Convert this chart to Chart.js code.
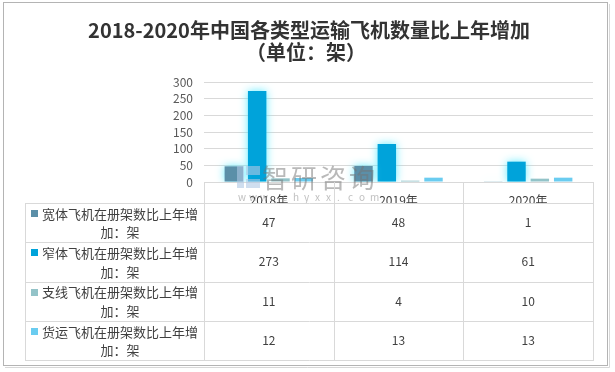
<!DOCTYPE html>
<html>
<head>
<meta charset="utf-8">
<script src="https://cdn.jsdelivr.net/npm/chart.js@4"></script>
<style>
  html, body { margin:0; padding:0; background:#fff; }
  #wrap { position:relative; width:615px; height:372px; }
</style>
</head>
<body>
<div id="wrap"><canvas id="chart" width="615" height="372"></canvas></div>
<script>
const years = ["2018年", "2019年", "2020年"]
const seriesNames = [
  ["宽体飞机在册架数比上年增", "加：架"],
  ["窄体飞机在册架数比上年增", "加：架"],
  ["支线飞机在册架数比上年增", "加：架"],
  ["货运飞机在册架数比上年增", "加：架"]
]
const wideBody = [47, 48, 1]
const narrowBody = [273, 114, 61]
const regional = [11, 4, 10]
const cargo = [12, 13, 13]
const seriesColors = ["#5b8fa8", "#00a3da", "#93c3c8", "#6accf0"]
const titleLines = ["2018-2020年中国各类型运输飞机数量比上年增加", "（单位：架）"]

const FONT = "'Noto Sans CJK SC', 'Noto Sans', sans-serif"
const allSeries = [wideBody, narrowBody, regional, cargo]

// cyan glow on the first two series
const glow = {
  id: "glow",
  beforeDatasetDraw(chart, args){
    if (args.index > 1) return
    const ctx = chart.ctx
    ctx.save()
    ctx.shadowColor = "rgba(90,235,255,0.95)"
    ctx.shadowBlur = 8
  },
  afterDatasetDraw(chart, args){
    if (args.index > 1) return
    chart.ctx.restore()
  }
}

// outer frame + title (title centred on the whole frame, not the plot)
const frame = {
  id: "frame",
  beforeDraw(chart){
    const ctx = chart.ctx
    ctx.save()
    ctx.fillStyle = "#fff"
    ctx.fillRect(0, 0, chart.width, chart.height)
    ctx.strokeStyle = "#b4b4b4"
    ctx.lineWidth = 1
    ctx.strokeRect(3.5, 2.5, 604, 363)
    ctx.strokeStyle = "#d8d8d8"
    ctx.beginPath()
    ctx.moveTo(609.5, 4); ctx.lineTo(609.5, 367.5); ctx.lineTo(5, 367.5)
    ctx.stroke()
    ctx.fillStyle = "#333333"
    ctx.font = "bold 20px " + FONT
    ctx.textAlign = "center"
    ctx.textBaseline = "middle"
    ctx.fillText(titleLines[0], 309, 30)
    ctx.fillText(titleLines[1], 306, 52)
    ctx.restore()
  }
}

// data table under the x axis
const dataTable = {
  id: "dataTable",
  afterDraw(chart){
    const ctx = chart.ctx
    const xs = chart.scales.x
    const area = chart.chartArea
    const step = (area.right - area.left) / years.length
    const cols = [area.left]
    for (let i = 0; i < years.length; i++) cols.push(Math.round(area.left + step * (i + 1)))
    const top = area.bottom
    const head = top + 21
    const rowH = 39.25
    const bottom = head + rowH * allSeries.length
    const tableLeft = 25

    ctx.save()
    // watermark
    ctx.fillStyle = "rgba(175,200,228,0.6)"
    ctx.fillRect(237, 166, 7, 22)
    ctx.fillRect(246, 166, 14, 9)
    ctx.fillRect(246, 179, 14, 9)
    ctx.fillStyle = "rgba(115,115,115,0.5)"
    ctx.font = "26px " + FONT
    ctx.textAlign = "left"
    ctx.textBaseline = "middle"
    ;["智", "研", "咨", "询"].forEach((c, i) => ctx.fillText(c, 262 + i * 29, 178))
    ctx.fillStyle = "rgba(150,150,150,0.6)"
    ctx.font = "10px " + FONT
    "www.chyxx.com".split("").forEach((c, i) => ctx.fillText(c, 238 + i * 11, 197))

    ctx.strokeStyle = "#d9d9d9"
    ctx.lineWidth = 1
    ctx.beginPath()
    cols.forEach(x => { ctx.moveTo(x + 0.5, top); ctx.lineTo(x + 0.5, bottom) })
    ctx.moveTo(tableLeft + 0.5, head); ctx.lineTo(tableLeft + 0.5, bottom)
    for (let r = 0; r <= allSeries.length; r++){
      const y = Math.round(head + rowH * r) + 0.5
      ctx.moveTo(tableLeft, y); ctx.lineTo(cols[cols.length - 1] + 1, y)
    }
    ctx.stroke()

    for (let r = 0; r < allSeries.length; r++){
      const y0 = head + rowH * r
      ctx.fillStyle = seriesColors[r]
      ctx.fillRect(31, Math.round(y0 + 7), 7, 7)
      ctx.fillStyle = "#404040"
      ctx.font = "13px " + FONT
      ctx.textAlign = "left"
      ctx.textBaseline = "middle"
      ctx.fillText(seriesNames[r][0], 42, y0 + 11)
      ctx.textAlign = "center"
      ctx.fillText(seriesNames[r][1], 120, y0 + 29.5)
      ctx.font = "12px " + FONT
      allSeries[r].forEach((v, i) => {
        ctx.fillText(String(v), xs.getPixelForValue(i), y0 + rowH / 2)
      })
    }
    ctx.restore()
  }
}

new Chart(document.getElementById("chart"), {
  type: "bar",
  data: {
    labels: years,
    datasets: allSeries.map((d, i) => ({
      label: seriesNames[i].join(""),
      data: d,
      backgroundColor: seriesColors[i],
      borderWidth: 0,
      categoryPercentage: 0.72,
      barPercentage: 0.79
    }))
  },
  options: {
    responsive: false,
    animation: false,
    layout: { padding: { top: 82, left: 164, right: 22, bottom: 169 } },
    plugins: {
      legend: { display: false },
      tooltip: { enabled: false },
      title: { display: false }
    },
    scales: {
      x: {
        grid: { display: false },
        border: { display: true, color: "#d9d9d9" },
        ticks: { color: "#404040", font: { family: FONT, size: 12 }, padding: 3, maxRotation: 0 },
        afterFit: s => { s.height = 21 }
      },
      y: {
        min: 0, max: 300,
        grid: { color: "#d9d9d9", drawTicks: false },
        border: { display: false },
        ticks: { stepSize: 50, autoSkip: false, color: "#595959", font: { family: FONT, size: 12 }, padding: 11 },
        afterFit: s => { s.width = 40 }
      }
    }
  },
  plugins: [frame, glow, dataTable]
})
</script>
</body>
</html>
